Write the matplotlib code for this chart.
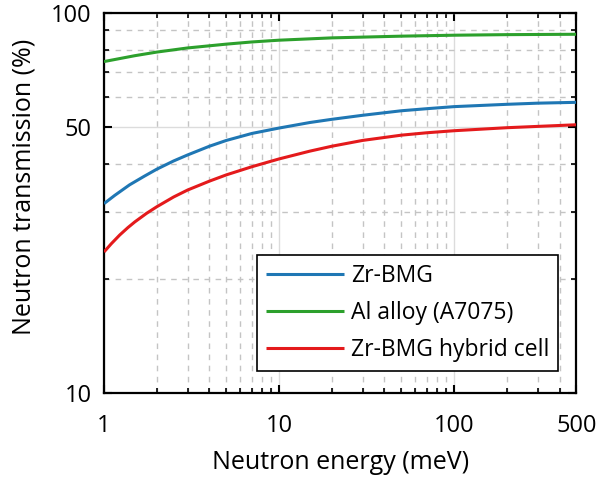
import numpy as np
import matplotlib
matplotlib.use('Agg')
import matplotlib.pyplot as plt
from matplotlib.ticker import FixedLocator, NullFormatter

plt.rcParams['font.family'] = ['Open Sans', 'DejaVu Sans']

# ─── Data ─────────────────────────────────────────────────────────────────────
energy_blue = [1, 1.15, 1.4, 1.7, 2, 2.5, 3, 4, 5, 7, 10, 15, 20, 30, 50, 70, 100, 200, 300, 500]
zr_bmg      = [31.5, 33.1, 35.3, 37.2, 38.8, 40.8, 42.3, 44.6, 46.2, 48.2, 49.8, 51.5, 52.5,
               53.8, 55.3, 56.0, 56.7, 57.5, 57.9, 58.2]

energy_green = [1, 1.5, 2, 3, 5, 7, 10, 20, 50, 100, 200, 500]
al_alloy     = [74.5, 77.2, 78.9, 80.9, 82.8, 83.9, 84.8, 86.0, 86.9, 87.4, 87.7, 87.9]

energy_red = [1, 1.1, 1.23, 1.37, 1.5, 1.75, 2, 2.5, 3, 4, 5, 7, 10, 15, 20, 30, 50, 70,
              100, 200, 300, 500]
zr_hybrid  = [23.5, 24.7, 26.05, 27.25, 28.2, 29.7, 30.9, 32.8, 34.2, 36.1, 37.5, 39.4, 41.3,
              43.3, 44.6, 46.2, 47.7, 48.4, 49.0, 49.9, 50.3, 50.8]

labels = ['Zr-BMG', 'Al alloy (A7075)', 'Zr-BMG hybrid cell']
colors = ['#1f77b4', '#2ca02c', '#e41a1c']

xticks      = [1, 10, 100, 500]
xticklabels = ['1', '10', '100', '500']
xminor      = [2, 3, 4, 5, 6, 7, 8, 9, 20, 30, 40, 50, 60, 70, 80, 90, 200, 300, 400]
yticks      = [10, 50, 100]
yticklabels = ['10', '50', '100']
yminor      = [20, 30, 40, 60, 70, 80, 90]

# ─── Figure ───────────────────────────────────────────────────────────────────
fig = plt.figure(figsize=(5.98, 4.79), dpi=100)
ax = fig.add_axes([0.1739, 0.1795, 0.7901, 0.7934])

series = [(energy_blue, zr_bmg), (energy_green, al_alloy), (energy_red, zr_hybrid)]
for (xs, ys), lab, c in zip(series, labels, colors):
    ax.plot(xs, ys, color=c, linewidth=2.2, label=lab, zorder=3,
            solid_joinstyle='round', solid_capstyle='butt')

ax.set_xscale('log')
ax.set_yscale('log')
ax.set_xlim(1, 500)
ax.set_ylim(10, 100)

ax.xaxis.set_major_locator(FixedLocator(xticks))
ax.set_xticklabels(xticklabels)
ax.xaxis.set_minor_locator(FixedLocator(xminor))
ax.xaxis.set_minor_formatter(NullFormatter())
ax.yaxis.set_major_locator(FixedLocator(yticks))
ax.set_yticklabels(yticklabels)
ax.yaxis.set_minor_locator(FixedLocator(yminor))
ax.yaxis.set_minor_formatter(NullFormatter())

ax.grid(True, which='major', color='#dcdcdc', linestyle='-', linewidth=1.0, zorder=0)
ax.grid(True, which='minor', color='#c4c4c4', linestyle=(0, (4, 4)), linewidth=1.0, zorder=0)
ax.set_axisbelow(True)

ax.tick_params(which='both', direction='in', top=True, right=True, labelsize=17, color='black')
ax.tick_params(which='major', length=6, width=1.5)
ax.tick_params(which='minor', length=3.5, width=1.2)
ax.tick_params(axis='x', which='major', pad=15)
ax.tick_params(axis='y', which='major', pad=9)
for s in ax.spines.values():
    s.set_linewidth(1.6)
    s.set_color('black')

ax.set_xlabel('Neutron energy (meV)', fontsize=18, labelpad=9)
ax.set_ylabel('Neutron transmission (%)', fontsize=18)
ax.yaxis.set_label_coords(-0.142, 0.542)

leg = ax.legend(loc='lower right', bbox_to_anchor=(0.9615, 0.0587), borderaxespad=0,
                fontsize=16.5, handlelength=3.4, handletextpad=0.3, labelspacing=0.56,
                borderpad=0.4, fancybox=False, framealpha=1, edgecolor='black')
leg.get_frame().set_linewidth(1.2)

fig.savefig('out.png', dpi=100)
